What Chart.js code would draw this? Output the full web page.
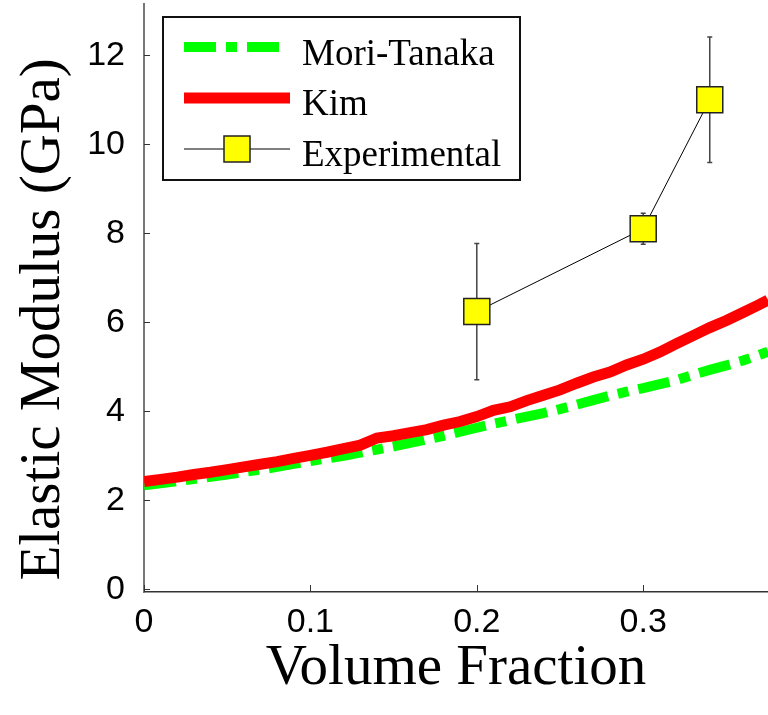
<!DOCTYPE html>
<html>
<head>
<meta charset="utf-8">
<script src="https://cdn.jsdelivr.net/npm/chart.js@4.4.1/dist/chart.umd.min.js"></script>
<style>
  html, body { margin: 0; padding: 0; background: #fff; }
  #wrap { width: 768px; height: 715px; position: relative; }
</style>
</head>
<body>
<div id="wrap"><canvas id="modulusChart"></canvas></div>
<script>
// volume fraction samples for the two model curves
const volumeFraction = [0, 0.01, 0.02, 0.03, 0.04, 0.05, 0.06, 0.07, 0.08, 0.09,
  0.10, 0.11, 0.12, 0.13, 0.14, 0.15, 0.16, 0.17, 0.18, 0.19,
  0.20, 0.21, 0.22, 0.23, 0.24, 0.25, 0.26, 0.27, 0.28, 0.29,
  0.30, 0.31, 0.32, 0.33, 0.34, 0.35, 0.36, 0.37, 0.375];

const kimModulus = [2.42, 2.47, 2.52, 2.58, 2.63, 2.69, 2.75, 2.81, 2.87, 2.94,
  3.01, 3.08, 3.16, 3.24, 3.40, 3.45, 3.52, 3.59, 3.69, 3.77,
  3.88, 4.02, 4.10, 4.24, 4.36, 4.48, 4.63, 4.77, 4.88, 5.04,
  5.17, 5.33, 5.52, 5.70, 5.88, 6.04, 6.22, 6.40, 6.50];

const moriTanakaModulus = [2.34, 2.38, 2.43, 2.48, 2.53, 2.58, 2.64, 2.69, 2.75, 2.82,
  2.88, 2.94, 3.00, 3.07, 3.14, 3.21, 3.29, 3.37, 3.45, 3.54,
  3.63, 3.72, 3.80, 3.88, 3.96, 4.05, 4.15, 4.25, 4.35, 4.44,
  4.52, 4.61, 4.70, 4.82, 4.93, 5.03, 5.14, 5.27, 5.34];

// experimental points with symmetric error
const expFraction = [0.20, 0.30, 0.34];
const expModulus = [6.24, 8.10, 11.0];
const expError = [1.53, 0.35, 1.41];

const legendLabels = ['Mori-Tanaka', 'Kim', 'Experimental'];

const serif = "'Liberation Serif', 'Times New Roman', serif";
const sans = "'Liberation Sans', Arial, sans-serif";

const toPoints = (xs, ys) => xs.map((x, i) => ({ x, y: ys[i] }));

// MATLAB style ticks pointing into the axes
const inwardTicks = {
  id: 'inwardTicks',
  afterDraw(chart) {
    const { ctx, chartArea, scales: { x, y } } = chart;
    ctx.save();
    ctx.strokeStyle = '#333';
    ctx.lineWidth = 1;
    ctx.beginPath();
    x.ticks.forEach(t => {
      const px = Math.round(x.getPixelForValue(t.value)) + 0.5;
      ctx.moveTo(px, chartArea.bottom);
      ctx.lineTo(px, chartArea.bottom - 7);
    });
    y.ticks.forEach(t => {
      const py = Math.round(y.getPixelForValue(t.value)) + 0.5;
      ctx.moveTo(chartArea.left, py);
      ctx.lineTo(chartArea.left + 6, py);
    });
    ctx.stroke();
    ctx.restore();
  }
};

const errorBars = {
  id: 'errorBars',
  beforeDatasetsDraw(chart) {
    const { ctx, scales: { x, y } } = chart;
    ctx.save();
    ctx.strokeStyle = '#444';
    ctx.lineWidth = 1.5;
    expFraction.forEach((f, i) => {
      const px = x.getPixelForValue(f);
      const top = y.getPixelForValue(expModulus[i] + expError[i]);
      const bot = y.getPixelForValue(expModulus[i] - expError[i]);
      ctx.beginPath();
      ctx.moveTo(px, top); ctx.lineTo(px, bot);
      ctx.moveTo(px - 2.5, top); ctx.lineTo(px + 2.5, top);
      ctx.moveTo(px - 2.5, bot); ctx.lineTo(px + 2.5, bot);
      ctx.stroke();
    });
    ctx.restore();
  }
};

// boxed legend in the upper left of the axes
const boxLegend = {
  id: 'boxLegend',
  afterDraw(chart) {
    const ctx = chart.ctx;
    const rows = [47, 98, 149];
    const baselines = [65, 115, 166];
    ctx.save();
    ctx.fillStyle = '#fff';
    ctx.fillRect(163, 17, 357, 163);
    ctx.strokeStyle = '#111';
    ctx.lineWidth = 2;
    ctx.strokeRect(163, 17, 357, 163);

    const byLabel = {};
    chart.data.datasets.forEach(ds => { byLabel[ds.label] = ds; });

    legendLabels.forEach((name, i) => {
      const ds = byLabel[name];
      const yy = rows[i];
      ctx.save();
      ctx.strokeStyle = ds.borderColor;
      ctx.lineWidth = ds.borderWidth;
      ctx.setLineDash(ds.borderDash || []);
      ctx.lineCap = 'butt';
      ctx.beginPath();
      ctx.moveTo(184, yy);
      ctx.lineTo(name === 'Mori-Tanaka' ? 281 : 290, yy);
      ctx.stroke();
      ctx.restore();
      if (ds.pointRadius) {
        ctx.fillStyle = ds.pointBackgroundColor;
        ctx.strokeStyle = ds.pointBorderColor;
        ctx.lineWidth = ds.pointBorderWidth;
        ctx.fillRect(224, yy - 13, 26, 26);
        ctx.strokeRect(224, yy - 13, 26, 26);
      }
      ctx.fillStyle = '#000';
      ctx.font = '37px ' + serif;
      ctx.textBaseline = 'alphabetic';
      ctx.fillText(name, 302, baselines[i]);
    });
    ctx.restore();
  }
};

new Chart(document.getElementById('modulusChart'), {
  type: 'scatter',
  data: {
    datasets: [
      {
        label: 'Experimental',
        data: toPoints(expFraction, expModulus),
        showLine: true,
        borderColor: '#000',
        borderWidth: 1,
        pointStyle: 'rect',
        pointRadius: 18.4,
        pointHoverRadius: 18.4,
        pointBackgroundColor: '#ffff00',
        pointBorderColor: '#222',
        pointBorderWidth: 1.5,
        order: 0
      },
      {
        label: 'Kim',
        data: toPoints(volumeFraction, kimModulus),
        showLine: true,
        borderColor: '#ff0000',
        borderWidth: 11,
        pointRadius: 0,
        tension: 0,
        order: 1
      },
      {
        label: 'Mori-Tanaka',
        data: toPoints(volumeFraction, moriTanakaModulus),
        showLine: true,
        borderColor: '#00ff00',
        borderWidth: 10,
        borderDash: [32, 10, 11, 10],
        borderCapStyle: 'butt',
        pointRadius: 0,
        tension: 0,
        order: 2
      }
    ]
  },
  options: {
    responsive: true,
    maintainAspectRatio: false,
    animation: false,
    layout: { autoPadding: false, padding: { top: 4, right: 0, bottom: 0, left: 0 } },
    plugins: {
      legend: { display: false },
      tooltip: { enabled: false }
    },
    scales: {
      x: {
        type: 'linear',
        min: 0,
        max: 0.375,
        grid: { display: false },
        border: { display: true, color: '#333', width: 1.5 },
        ticks: {
          stepSize: 0.1,
          includeBounds: false,
          padding: 2,
          color: '#000',
          font: { family: sans, size: 34 },
          maxRotation: 0,
          callback: (v) => String(Math.round(v * 10) / 10)
        },
        title: {
          display: true,
          text: 'Volume Fraction',
          color: '#000',
          font: { family: serif, size: 57 },
          padding: { top: 0, bottom: 12 }
        },
        afterFit(scale) {
          scale.height = 123;
          scale.paddingLeft = 0;
          scale.paddingRight = 0;
        }
      },
      y: {
        type: 'linear',
        min: -0.06,
        max: 13.15,
        grid: { display: false },
        border: { display: true, color: '#777', width: 2 },
        ticks: {
          stepSize: 2,
          includeBounds: false,
          padding: 11,
          color: '#000',
          font: { family: sans, size: 34 }
        },
        title: {
          display: true,
          // trailing spaces nudge the centred label down like the original
          text: 'Elastic Modulus (GPa)   ',
          color: '#000',
          font: { family: serif, size: 57 },
          padding: { top: 10, bottom: 0 }
        },
        afterFit(scale) {
          scale.width = 144;
          scale.paddingTop = 0;
          scale.paddingBottom = 0;
        }
      }
    }
  },
  plugins: [errorBars, inwardTicks, boxLegend]
});
</script>
</body>
</html>
